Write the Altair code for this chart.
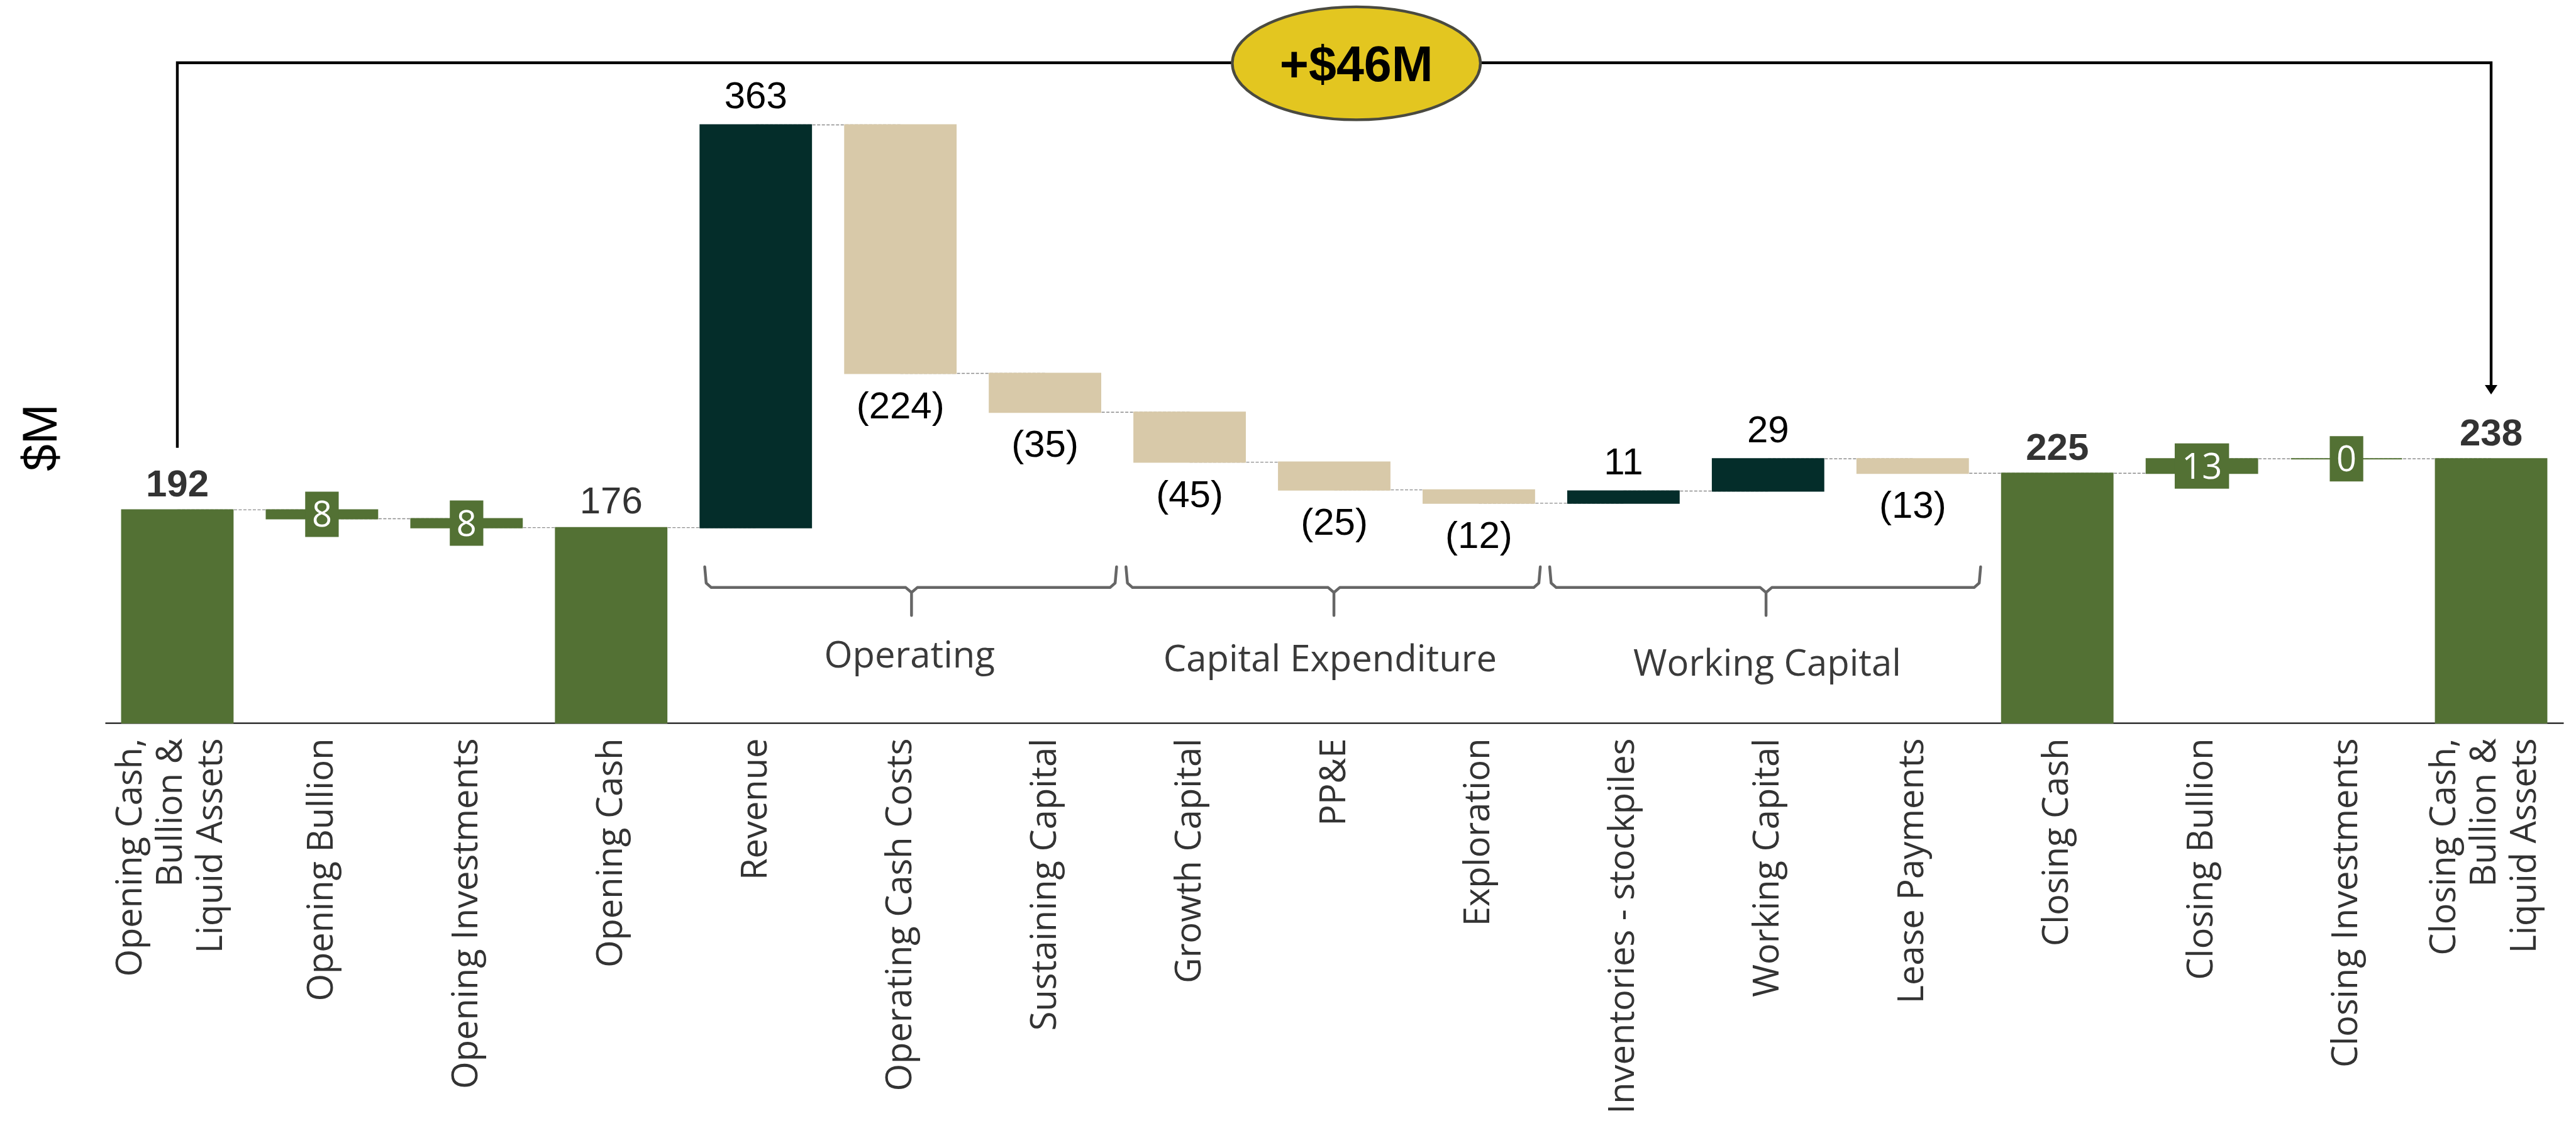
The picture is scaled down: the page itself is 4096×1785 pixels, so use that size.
import altair as alt
import pandas as pd

# ---------------- data ----------------
categories = [
    "Opening Cash,|Bullion &|Liquid Assets", "Opening Bullion", "Opening Investments",
    "Opening Cash", "Revenue", "Operating Cash Costs", "Sustaining Capital",
    "Growth Capital", "PP&E", "Exploration", "Inventories - stockpiles",
    "Working Capital", "Lease Payments", "Closing Cash", "Closing Bullion",
    "Closing Investments", "Closing Cash,|Bullion &|Liquid Assets",
]
changes = [192, -8, -8, 176, 363, -224, -35, -45, -25, -12, 11, 29, -13, 225, 13, 0, 238]
kinds = ["total", "asset", "asset", "total", "pos", "neg", "neg", "neg", "neg", "neg",
         "pos", "pos", "neg", "total", "asset", "asset", "total"]
bold_label = [True, False, False, False, False, False, False, False, False, False,
              False, False, False, True, False, False, True]
group_names = ["Operating", "Capital Expenditure", "Working Capital"]
bridge_label = "+$46M"

# ---------------- layout / style constants ----------------
W, H = 3909, 1111
Y_MAX = 630
GREEN, DARK, TAN = "#537134", "#042D2A", "#D8C9A9"
NUM_FONT = "Liberation Sans, Arial, sans-serif"
LBL_FONT = "Open Sans, sans-serif"

# ---------------- derived tables ----------------
rows = []
running = 0
for i, (c, ch, k, b) in enumerate(zip(categories, changes, kinds, bold_label)):
    if k == "total":
        start, end = 0, ch
    else:
        start, end = running, running + ch
    running = end
    label = f"({abs(ch)})" if k == "neg" else str(abs(ch))
    w = (0.74 if len(label) == 1 else 1.2)
    box = f"M{-w},-1 L{w},-1 L{w},1 L{-w},1 Z"
    rows.append(dict(cat=c, idx=i, start=start, end=end, lo=min(start, end),
                     hi=max(start, end), mid=(start + end) / 2, kind=k,
                     label=label, bold=b, box=box))
df = pd.DataFrame(rows)

conn = pd.DataFrame([dict(x=r["idx"] + 0.5, x2=r["idx"] + 1.5, y=r["end"])
                     for r in rows[:-1]])

first_top = rows[0]["end"]
last_top = rows[-1]["end"]
bracket = pd.DataFrame([
    dict(o=0, x=0.5, y=first_top + 56),
    dict(o=1, x=0.5, y=595),
    dict(o=2, x=len(categories) - 0.5, y=595),
    dict(o=3, x=len(categories) - 0.5, y=last_top + 63),
])
arrow = pd.DataFrame([dict(x=len(categories) - 0.5, y=last_top + 62.2)])
bubble = pd.DataFrame([dict(x=8.653, y=594.5, t=bridge_label)])

brace_start = [4.147, 7.06, 9.99]
brace_end = [6.995, 9.925, 12.97]
brace_mid = [5.577, 8.498, 11.486]
label_x = [5.563, 8.471, 11.494]
label_y = [49.8, 46.3, 42.3]
brows = []
for g, s, e, m in zip(group_names, brace_start, brace_end, brace_mid):
    pts = [(s, 140.6), (s + 0.01, 126), (s + 0.045, 122), (m - 0.04, 122), (m, 117.5),
           (m, 96.8), (m, 117.5), (m + 0.04, 122), (e - 0.045, 122), (e - 0.01, 126), (e, 140.6)]
    for o, (px, py) in enumerate(pts):
        brows.append(dict(g=g, o=o, x=px, y=py))
braces = pd.DataFrame(brows)
glabels = pd.DataFrame([dict(g=g, x=x, y=y) for g, x, y in zip(group_names, label_x, label_y)])

# ---------------- scales / axes ----------------
color_scale = alt.Scale(domain=["total", "asset", "pos", "neg"],
                        range=[GREEN, GREEN, DARK, TAN])
band = alt.Scale(domain=categories, paddingInner=0.231, paddingOuter=0.1155)
x_axis = alt.Axis(title=None, labelAngle=270, labelFont=LBL_FONT, labelFontSize=56,
                  labelColor="#333333", labelPadding=24, ticks=False, tickSize=0,
                  domainColor="#000000", domainWidth=2, labelLineHeight=64,
                  labelExpr="split(datum.label, '|')", labelLimit=3000,
                  labelOffset={"condition": {"test": "indexof(datum.value, '|') >= 0",
                                             "value": -74}, "value": 0},
                  labelOverlap=False, grid=False)
y_axis = alt.Axis(title="$M", labels=False, ticks=False, domain=False, grid=False,
                  titleFont=NUM_FONT, titleFontSize=77, titleFontWeight="normal",
                  titleColor="#000000", titleX=-101, titleY=657, titleAngle=270,
                  titleAlign="center", titleBaseline="middle")
yscale = alt.Scale(domain=[0, Y_MAX], nice=False, zero=True)
qx = alt.Scale(domain=[0, len(categories)], nice=False, zero=False)


def Xb(axis=None):
    return alt.X("cat:N", sort=categories, scale=band, axis=axis, title=None)


def Yq(field):
    return alt.Y(field, scale=yscale, axis=y_axis, title="$M")


def Xq(field="x:Q"):
    return alt.X(field, scale=qx, axis=None)


base = alt.Chart(df)

connectors = alt.Chart(conn).mark_rule(color="#8c8c8c", strokeWidth=1.4,
                                       strokeDash=[5, 2.5]).encode(
    x=Xq("x:Q"), x2="x2:Q", y=Yq("y:Q"))

bars = base.mark_bar(strokeWidth=2).encode(
    x=Xb(x_axis), y=Yq("lo:Q"), y2="hi:Q",
    color=alt.Color("kind:N", scale=color_scale, legend=None),
    stroke=alt.Stroke("kind:N", scale=color_scale, legend=None))

above_bold = base.transform_filter(
    "datum.kind == 'total' && datum.bold").mark_text(
    font=NUM_FONT, fontSize=60, fontWeight="bold", color="#333333",
    baseline="alphabetic", dy=-21).encode(x=Xb(), y=Yq("hi:Q"), text="label:N")

above_total_reg = base.transform_filter(
    "datum.kind == 'total' && !datum.bold").mark_text(
    font=NUM_FONT, fontSize=60, color="#333333",
    baseline="alphabetic", dy=-23).encode(x=Xb(), y=Yq("hi:Q"), text="label:N")

above_pos = base.transform_filter("datum.kind == 'pos'").mark_text(
    font=NUM_FONT, fontSize=60, color="#000000",
    baseline="alphabetic", dy=-26).encode(x=Xb(), y=Yq("hi:Q"), text="label:N")

below = base.transform_filter("datum.kind == 'neg'").mark_text(
    font=NUM_FONT, fontSize=60, color="#000000", baseline="top", dy=24).encode(
    x=Xb(), y=Yq("lo:Q"), text="label:N")

boxes = base.transform_filter("datum.kind == 'asset'").mark_point(
    filled=True, fill=GREEN, opacity=1, size=72 * 72, strokeWidth=0).encode(
    x=Xb(), y=Yq("mid:Q"), shape=alt.Shape("box:N", scale=None, legend=None))

box_text = base.transform_filter("datum.kind == 'asset'").mark_text(
    font=LBL_FONT, fontSize=56, color="#ffffff", baseline="middle", dy=3).encode(
    x=Xb(), y=Yq("mid:Q"), text="label:N")

bracket_line = alt.Chart(bracket).mark_line(color="#000000", strokeWidth=4.4,
                                           strokeJoin="miter").encode(
    x=Xq(), y=Yq("y:Q"), order="o:Q")

arrow_head = alt.Chart(arrow).mark_point(
    filled=True, fill="#000000", opacity=1, size=400, strokeWidth=0,
    shape="M-1,-0.75 L1,-0.75 L0,0.75 Z").encode(x=Xq(), y=Yq("y:Q"))

ellipse = alt.Chart(bubble).mark_point(
    filled=True, fill="#E3C620", opacity=1, size=179.5 * 179.5, stroke="#4a4a40",
    strokeWidth=4.4, strokeOpacity=1,
    shape="M-2.198,0 A2.198,1 0 1,0 2.198,0 A2.198,1 0 1,0 -2.198,0 Z").encode(
    x=Xq(), y=Yq("y:Q"))

ellipse_text = alt.Chart(bubble).mark_text(
    font=NUM_FONT, fontSize=79, fontWeight="bold", color="#000000",
    baseline="middle", dy=4).encode(x=Xq(), y=Yq("y:Q"), text="t:N")

brace_lines = alt.Chart(braces).mark_line(color="#666666", strokeWidth=4.5,
                                          strokeJoin="round", strokeCap="round").encode(
    x=Xq(), y=Yq("y:Q"), detail="g:N", order="o:Q")

group_text = alt.Chart(glabels).mark_text(
    font=LBL_FONT, fontSize=58, color="#3a3a3a", baseline="alphabetic").encode(
    x=Xq(), y=Yq("y:Q"), text="g:N")

chart = alt.layer(
    connectors, bars, above_bold, above_total_reg, above_pos, below, boxes, box_text,
    bracket_line, arrow_head, ellipse, ellipse_text, brace_lines, group_text,
).resolve_scale(x="independent").properties(
    width=W, height=H,
    padding={"left": 159, "top": 30, "right": 12, "bottom": 628},
    autosize=alt.AutoSizeParams(type="none"),
).configure_view(stroke=None)

chart.save("out.html", embed_options={"renderer": "svg", "actions": False})
